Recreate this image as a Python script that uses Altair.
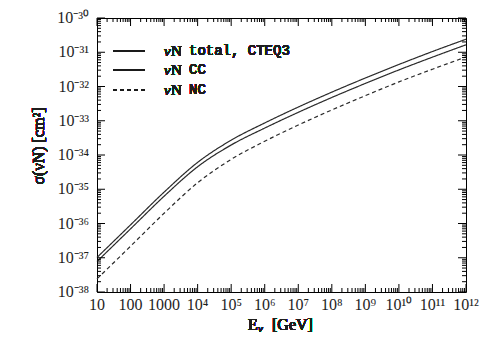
import altair as alt
import pandas as pd

# ---- data ----
energy = [1e1, 1e2, 1e3, 1e4, 1e5, 1e6, 1e7, 1e8, 1e9, 1e10, 1e11, 1e12]
sigma_total = [1.02e-37, 9.13e-37, 8.24e-36, 6.09e-35, 2.71e-34, 8.63e-34,
               2.51e-33, 6.85e-33, 1.77e-32, 4.40e-32, 1.05e-31, 2.40e-31]
sigma_cc = [7.77e-38, 6.97e-37, 6.25e-36, 4.54e-35, 1.96e-34, 6.11e-34,
            1.76e-33, 4.78e-33, 1.23e-32, 3.05e-32, 7.20e-32, 1.65e-31]
sigma_nc = [2.42e-38, 2.17e-37, 1.99e-36, 1.55e-35, 7.45e-35, 2.52e-34,
            7.48e-34, 2.07e-33, 5.40e-33, 1.36e-32, 3.20e-32, 7.30e-32]
series_names = ["total", "CC", "NC"]
legend_suffix = ["total, CTEQ3", "CC", "NC"]

x_tick_values = [10.0 ** k for k in range(1, 13)]
x_tick_labels = ["10", "100", "1000", "10⁴", "10⁵", "10⁶", "10⁷", "10⁸",
                 "10⁹", "10¹⁰", "10¹¹", "10¹²"]
y_tick_values = [10.0 ** k for k in range(-38, -29)]
y_tick_labels = ["10⁻³⁸", "10⁻³⁷", "10⁻³⁶", "10⁻³⁵", "10⁻³⁴", "10⁻³³",
                 "10⁻³²", "10⁻³¹", "10⁻³⁰"]
minor_multipliers = [2, 3, 4, 5, 6, 7, 8, 9]

# ---- tables ----
rows = []
for name, vals in zip(series_names, [sigma_total, sigma_cc, sigma_nc]):
    for e, s in zip(energy, vals):
        rows.append({"E": e, "sigma": s, "series": name})
df = pd.DataFrame(rows)

x_major = pd.DataFrame({"v": x_tick_values, "label": x_tick_labels})
y_major = pd.DataFrame({"v": y_tick_values, "label": y_tick_labels})
x_minor = pd.DataFrame({"v": [m * x for x in x_tick_values[:-1] for m in minor_multipliers]})
y_minor = pd.DataFrame({"v": [m * y for y in y_tick_values[:-1] for m in minor_multipliers]})

W, H = 369, 274
MAJ, MIN = 8, 4
SERIF = "Liberation Serif"
MONO = "Liberation Mono"
INK = "#1e1e1e"

xs = alt.Scale(type="log", domain=[10, 1e12], nice=False)
ys = alt.Scale(type="log", domain=[1e-38, 1e-30], nice=False)

curves = alt.Chart(df).mark_line(interpolate="monotone", strokeWidth=1.2, color="#2a2a2a").encode(
    x=alt.X("E:Q", scale=xs, axis=None),
    y=alt.Y("sigma:Q", scale=ys, axis=None),
    detail="series:N",
    strokeDash=alt.StrokeDash("series:N", legend=None,
                              scale=alt.Scale(domain=series_names, range=[[1, 0], [1, 0], [4, 3]])),
)

layers = [curves]

def yticks(data, ln):
    base = alt.Chart(data).mark_rule(color="black", strokeWidth=1)
    enc = dict(y=alt.Y("v:Q", scale=ys, axis=None))
    return [base.encode(x=alt.value(0), x2=alt.value(ln), **enc),
            base.encode(x=alt.value(W - ln), x2=alt.value(W), **enc)]

def xticks(data, ln):
    base = alt.Chart(data).mark_rule(color="black", strokeWidth=1)
    enc = dict(x=alt.X("v:Q", scale=xs, axis=None))
    return [base.encode(y=alt.value(H - ln), y2=alt.value(H), **enc),
            base.encode(y=alt.value(0), y2=alt.value(ln), **enc)]

layers += yticks(y_major, MAJ) + yticks(y_minor, MIN) + xticks(x_major, MAJ) + xticks(x_minor, MIN)

# tick labels
layers.append(alt.Chart(y_major).mark_text(align="right", baseline="middle", font=SERIF,
                                           fontSize=16, color=INK).encode(
    y=alt.Y("v:Q", scale=ys, axis=None), x=alt.value(-8), text="label:N"))
layers.append(alt.Chart(x_major).mark_text(align="center", baseline="top", font=SERIF,
                                           fontSize=16, color=INK).encode(
    x=alt.X("v:Q", scale=xs, axis=None), y=alt.value(H + 5), text="label:N"))

# legend
leg_y = [33, 52, 72]
leg_dash = [[1, 0], [1, 0], [4, 3]]
for i in range(3):
    layers.append(alt.Chart(df).mark_rule(color="#1a1a1a", strokeWidth=1.2, strokeDash=leg_dash[i]).encode(
        x=alt.value(16), x2=alt.value(48), y=alt.value(leg_y[i])))
    layers.append(alt.Chart(df).mark_text(align="left", baseline="middle", font=SERIF, fontStyle="italic",
                                          fontSize=15, color=INK).encode(
        x=alt.value(67), y=alt.value(leg_y[i]), text=alt.value("ν")))
    layers.append(alt.Chart(df).mark_text(align="left", baseline="middle", font=SERIF,
                                          fontSize=15, color=INK).encode(
        x=alt.value(74), y=alt.value(leg_y[i]), text=alt.value("N")))
    layers.append(alt.Chart(df).mark_text(align="left", baseline="middle", font=MONO,
                                          fontSize=14, color=INK).encode(
        x=alt.value(92), y=alt.value(leg_y[i]), text=alt.value(legend_suffix[i])))

# axis titles
layers.append(alt.Chart(df).mark_text(align="center", baseline="middle", font=SERIF, fontSize=16,
                                      angle=270, color=INK).encode(
    x=alt.value(-58), y=alt.value(128), text=alt.value("σ(νN)  [cm²]")))
layers.append(alt.Chart(df).mark_text(align="left", baseline="middle", font=SERIF, fontSize=16,
                                      color=INK).encode(
    x=alt.value(151), y=alt.value(307), text=alt.value("E")))
layers.append(alt.Chart(df).mark_text(align="left", baseline="middle", font=SERIF, fontSize=11,
                                      fontStyle="italic", color=INK).encode(
    x=alt.value(161), y=alt.value(311), text=alt.value("ν")))
layers.append(alt.Chart(df).mark_text(align="left", baseline="middle", font=SERIF, fontSize=16,
                                      color=INK).encode(
    x=alt.value(175), y=alt.value(307), text=alt.value("[GeV]")))

chart = alt.layer(*layers).properties(
    width=W, height=H,
    autosize=alt.AutoSizeParams(type="none"),
    padding={"left": 89, "top": 10, "right": 24, "bottom": 55},
    background="white",
).configure_view(stroke="black", strokeWidth=1)

chart.save("out.html", embed_options={"renderer": "svg", "actions": False})
